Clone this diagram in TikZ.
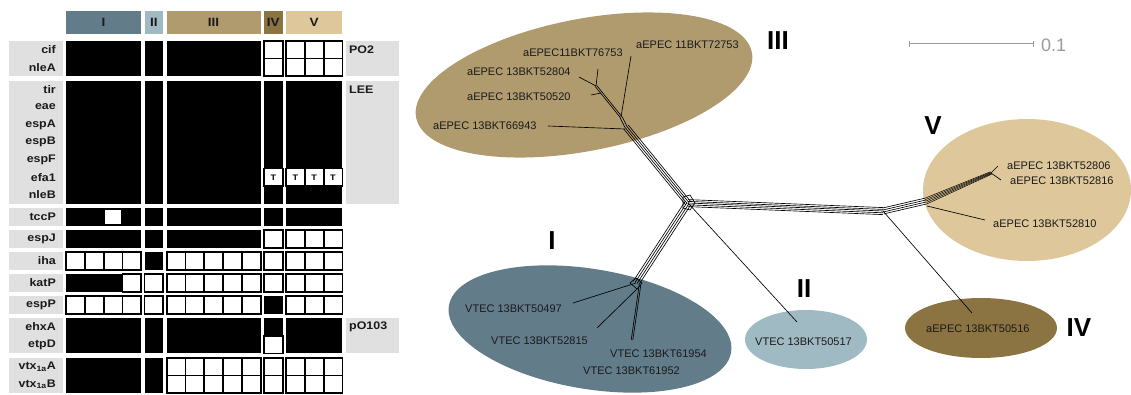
\documentclass[tikz,border=0pt]{standalone}
\usepackage{fontspec}
\setmainfont{Liberation Sans}
\newfontfamily\tabfont[FakeStretch=1.13]{Liberation Sans}
\usetikzlibrary{calc}

\definecolor{cI}{HTML}{627C89}
\definecolor{cII}{HTML}{A0BAC4}
\definecolor{cIII}{HTML}{B09B6F}
\definecolor{cIV}{HTML}{8C7442}
\definecolor{cV}{HTML}{DEC89B}
\definecolor{labgray}{HTML}{E0E0E0}
\definecolor{scalegray}{HTML}{9A9A9A}
\definecolor{ink}{HTML}{1A1A1A}

% solid black block: x0, columns, y0, rows
\newcommand\blackblk[4]{\fill[black] (#1,#3) rectangle ++({#2*18.8},{#4*17.6});}
% block of empty framed cells: x0, columns, y0, rows
\newcommand\whiteblk[4]{\foreach \i in {1,...,#2}{\foreach \j in {1,...,#4}{%
  \draw[cellframe] ({#1+(\i-1)*18.8},{#3+(\j-1)*17.6}) rectangle ++(18.8,17.6);}}}
% bundle of parallel edges between two named points
\newcommand\bundle[3]{\foreach \o in {#3}{%
  \draw[branch] ($(#1)!\o pt!90:(#2)$) -- ($(#2)!\o pt!-90:(#1)$);}}
% bundle whose edges draw together towards the second point
\newcommand\taper[3]{\foreach \o in {#3}{%
  \pgfmathsetmacro\oend{0.45*\o}%
  \draw[branch,line width=0.5pt] ($(#1)!\o pt!90:(#2)$) -- ($(#2)!\oend pt!-90:(#1)$);}}

\tikzset{
  cellframe/.style={fill=white,draw=black,line width=1.8pt},
  branch/.style={draw=black,line width=0.65pt},
  rowlab/.style={anchor=east,inner sep=0pt,text=ink,font=\tabfont\bfseries\fontsize{11}{13}\selectfont},
  setlab/.style={anchor=west,inner sep=0pt,text=ink,font=\tabfont\bfseries\fontsize{11}{13}\selectfont},
  headbox/.style={inner sep=0pt,text=ink,font=\tabfont\bfseries\fontsize{12}{14}\selectfont},
  leaf/.style={anchor=west,inner sep=0pt,text=ink,font=\fontsize{11}{13}\selectfont},
  clade/.style={inner sep=0pt,text=black,font=\bfseries\fontsize{26}{26}\selectfont},
}

\begin{document}
\begin{tikzpicture}[x=1pt,y=-1pt]
\useasboundingbox (0,0) rectangle (1131,395);

% ---------------- gene presence table ----------------
% gray label panels
\foreach \t/\n in {41/2,80.6/7,208.2/1,230.2/1,252.2/1,274.2/1,296.2/1,318.2/2,357.8/2}
  \fill[labgray] (9,\t) rectangle ++(54,{\n*17.6});
\fill[labgray] (346,41) rectangle (399,76.2);
\fill[labgray] (346,80.6) rectangle (399,203.8);
\fill[labgray] (346,318.2) rectangle (399,353.4);

% group headers
\fill[cI]   (66,11) rectangle (141.2,34);
\fill[cII]  (144.5,11) rectangle (163.3,34);
\fill[cIII] (166.6,11) rectangle (260.6,34);
\fill[cIV]  (263.9,11) rectangle (282.7,34);
\fill[cV]   (286,11) rectangle (342.4,34);
\node[headbox] (hI)   at (103.6,22.5) {I};
\node[headbox] (hII)  at (153.9,22.5) {II};
\node[headbox] (hIII) at (213.6,22.5) {III};
\node[headbox] (hIV)  at (273.3,22.5) {IV};
\node[headbox] (hV)   at (314.2,22.5) {V};

% cif / nleA
\blackblk{66}{4}{41}{2} \blackblk{144.5}{1}{41}{2} \blackblk{166.6}{5}{41}{2}
\whiteblk{263.9}{1}{41}{2} \whiteblk{286}{3}{41}{2}
% LEE
\blackblk{66}{4}{80.6}{7} \blackblk{144.5}{1}{80.6}{7} \blackblk{166.6}{5}{80.6}{7}
\blackblk{263.9}{1}{80.6}{7} \blackblk{286}{3}{80.6}{7}
\whiteblk{263.9}{1}{168.6}{1} \whiteblk{286}{3}{168.6}{1}
\foreach \x [count=\k] in {273.3,295.4,314.2,333.0}
  \node[inner sep=0pt,font=\tabfont\bfseries\fontsize{8}{8}\selectfont] (t\k) at (\x,177.4) {T};
% tccP
\blackblk{66}{4}{208.2}{1}
\fill[white] (105,209.6) rectangle (121.2,224.4);
\blackblk{144.5}{1}{208.2}{1} \blackblk{166.6}{5}{208.2}{1}
\blackblk{263.9}{1}{208.2}{1} \blackblk{286}{3}{208.2}{1}
% espJ
\blackblk{66}{4}{230.2}{1} \blackblk{144.5}{1}{230.2}{1} \blackblk{166.6}{5}{230.2}{1}
\whiteblk{263.9}{1}{230.2}{1} \whiteblk{286}{3}{230.2}{1}
% iha
\whiteblk{66}{4}{252.2}{1} \blackblk{144.5}{1}{252.2}{1} \whiteblk{166.6}{5}{252.2}{1}
\whiteblk{263.9}{1}{252.2}{1} \whiteblk{286}{3}{252.2}{1}
% katP
\blackblk{66}{4}{274.2}{1} \whiteblk{122.4}{1}{274.2}{1}
\whiteblk{144.5}{1}{274.2}{1} \whiteblk{166.6}{5}{274.2}{1}
\whiteblk{263.9}{1}{274.2}{1} \whiteblk{286}{3}{274.2}{1}
% espP
\whiteblk{66}{4}{296.2}{1} \whiteblk{144.5}{1}{296.2}{1} \whiteblk{166.6}{5}{296.2}{1}
\blackblk{263.9}{1}{296.2}{1} \whiteblk{286}{3}{296.2}{1}
% ehxA / etpD
\blackblk{66}{4}{318.2}{2} \blackblk{144.5}{1}{318.2}{2} \blackblk{166.6}{5}{318.2}{2}
\blackblk{263.9}{1}{318.2}{2} \whiteblk{263.9}{1}{335.8}{1} \blackblk{286}{3}{318.2}{2}
% vtx1aA / vtx1aB
\blackblk{66}{4}{357.8}{2} \blackblk{144.5}{1}{357.8}{2} \whiteblk{166.6}{5}{357.8}{2}
\whiteblk{263.9}{1}{357.8}{2} \whiteblk{286}{3}{357.8}{2}

% gene names
\foreach \g/\y [count=\k] in {cif/49.8,nleA/67.4,tir/89.4,eae/107,espA/124.6,espB/142.2,
  espF/159.8,efa1/177.4,nleB/195,tccP/217,espJ/239,iha/261,katP/283,espP/305,
  ehxA/327,etpD/344.6}
  \node[rowlab] (g\k) at (56,\y) {\g};
\node[rowlab] (vtxA) at (56,366.6) {vtx\textsubscript{1a}A};
\node[rowlab] (vtxB) at (56,384.2) {vtx\textsubscript{1a}B};

% genetic element names
\node[setlab] (po2) at (349,49.8) {PO2};
\node[setlab] (lee) at (349,89.4) {LEE};
\node[setlab] (po103) at (349,327) {pO103};

% ---------------- split network ----------------
\fill[cIII] [rotate around={11:(584,85)}] (584,85) ellipse [x radius=171pt, y radius=66pt];
\fill[cI] [rotate around={-9.4:(590,329)}] (590,329) ellipse [x radius=143pt, y radius=60pt];
\fill[cII] (806,339.5) ellipse [x radius=61pt, y radius=29.5pt];
\fill[cIV] (981,328) ellipse [x radius=76pt, y radius=30pt];
\fill[cV] (1027,190) ellipse [x radius=104pt, y radius=71pt];

% internal splits
\coordinate (C) at (688,203);
\coordinate (N3) at (626,127);
\coordinate (N3b) at (621,117);
\coordinate (N3c) at (596,86);
\coordinate (N1) at (636,283);
\coordinate (N5) at (883,211);
\coordinate (N5b) at (926,201);
\coordinate (N5c) at (991,173);

\bundle{C}{N3}{-3,-1,1,3}
\bundle{C}{N1}{-3.3,-1.1,1.1,3.3}
\bundle{C}{N5}{-3.6,-1.8,0,1.6,3.4}
\bundle{N5}{N5b}{-3,-1,1,3}
\taper{N5b}{N5c}{-3,-1.5,0,1.5,3}
\bundle{N3}{N3b}{-1.2,1.2}
\bundle{N3b}{N3c}{-0.9,0.9}
% central hub and small box of clade I
\draw[branch] (683,197) -- (690,195) -- (695,203) -- (690,210) -- (683,208) -- cycle;
\draw[branch] (630,283) -- (636,278) -- (642,283) -- (637,289) -- cycle;

% terminal edges
\coordinate (l72753) at (631,56);
\coordinate (l76753) at (598,69);
\coordinate (l52804) at (579,77);
\coordinate (s50520) at (601,93);
\coordinate (l50520) at (591,95);
\coordinate (j66943) at (625,129);
\coordinate (l66943) at (548,126);
\coordinate (l50497) at (573,303);
\coordinate (j52815) at (638,288);
\coordinate (l52815) at (597,328);
\coordinate (j61954) at (640,285);
\coordinate (l61954) at (632,340);
\coordinate (lII) at (797,322);
\coordinate (lIV) at (972,313);
\coordinate (l52806) at (998,166);
\coordinate (l52816) at (1001,180);
\coordinate (j52810) at (927,206);
\coordinate (l52810) at (985,220);

\draw[branch] (N3b) -- (l72753);
\draw[branch] (N3c) -- (l76753);
\draw[branch] (N3c) -- (l52804);
\draw[branch] (s50520) -- (l50520);
\draw[branch] (j66943) -- (l66943);
\draw[branch] (N1) -- (l50497);
\draw[branch] (j52815) -- (l52815);
\bundle{j61954}{l61954}{-0.8,0.8}
\draw[branch] (C) -- (lII);
\draw[branch] (N5) -- (lIV);
\draw[branch] (N5c) -- (l52806);
\draw[branch] (N5c) -- (l52816);
\draw[branch] (j52810) -- (l52810);

% leaf names
\node[leaf] (t72753) at (636,45) {aEPEC 11BKT72753};
\node[leaf] (t76753) at (523,53) {aEPEC11BKT76753};
\node[leaf] (t52804) at (467,72) {aEPEC 13BKT52804};
\node[leaf] (t50520) at (467,97) {aEPEC 13BKT50520};
\node[leaf] (t66943) at (433,126) {aEPEC 13BKT66943};
\node[leaf] (t50497) at (465,309) {VTEC 13BKT50497};
\node[leaf] (t52815) at (491,341) {VTEC 13BKT52815};
\node[leaf] (t61954) at (610,354) {VTEC 13BKT61954};
\node[leaf] (t61952) at (583,371) {VTEC 13BKT61952};
\node[leaf] (t50517) at (755,342) {VTEC 13BKT50517};
\node[leaf] (t50516) at (926,329) {aEPEC 13BKT50516};
\node[leaf] (t52806) at (1007,166) {aEPEC 13BKT52806};
\node[leaf] (t52816) at (1010,181) {aEPEC 13BKT52816};
\node[leaf] (t52810) at (993,224) {aEPEC 13BKT52810};

% clade names
\node[clade] (kIII) at (778,41) {III};
\node[clade] (kV) at (933,126) {V};
\node[clade] (kI) at (552,241) {I};
\node[clade] (kII) at (804,289) {II};
\node[clade] (kIV) at (1079,328) {IV};

% scale bar
\coordinate (sbL) at (909,44);
\coordinate (sbR) at (1033,44);
\draw[scalegray,line width=1pt] (sbL) -- (sbR);
\draw[scalegray,line width=1pt] ($(sbL)+(0,-3)$) -- ($(sbL)+(0,3)$);
\draw[scalegray,line width=1pt] ($(sbR)+(0,-3)$) -- ($(sbR)+(0,3)$);
\node[anchor=west,inner sep=0pt,text=scalegray,font=\fontsize{18}{18}\selectfont] (sbt) at (1041,45) {0.1};
\end{tikzpicture}
\end{document}
